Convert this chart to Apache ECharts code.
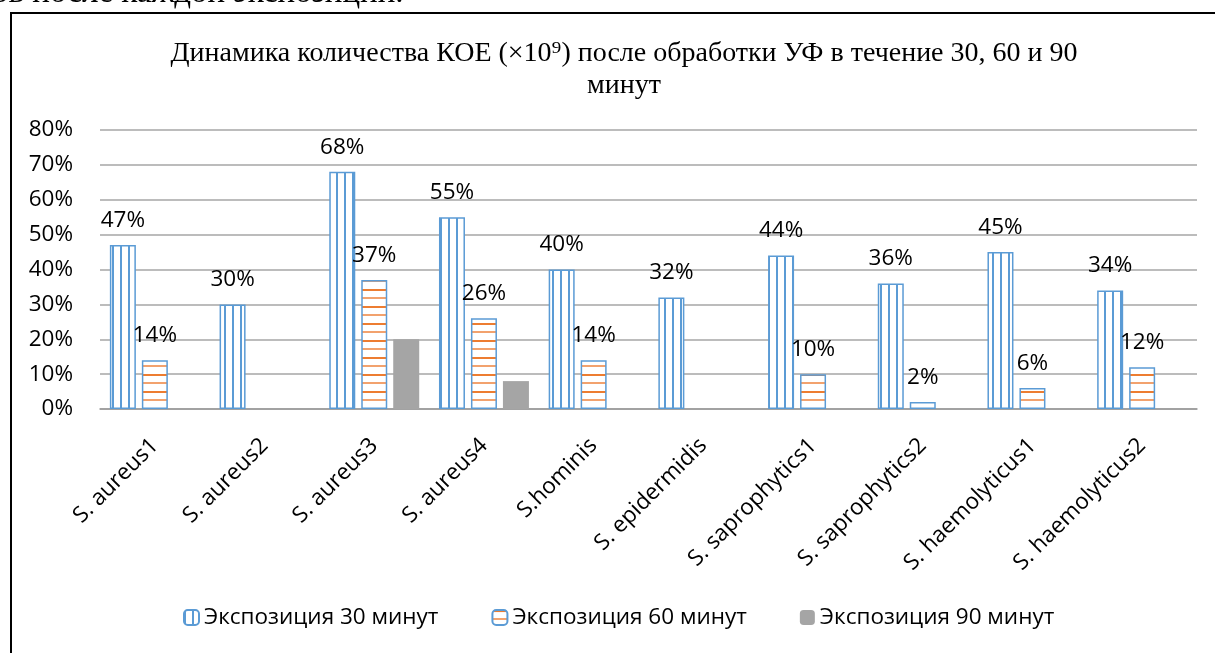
<!DOCTYPE html>
<html>
<head>
<meta charset="utf-8">
<script src="https://cdn.jsdelivr.net/npm/echarts@6/dist/echarts.min.js"></script>
<style>
  html, body { margin: 0; padding: 0; background: #fff; }
  #chart { width: 1215px; height: 653px; }
</style>
</head>
<body>
<div id="chart"></div>
<script>
var categories = ["S. aureus1", "S. aureus2", "S. aureus3", "S. aureus4", "S.hominis",
  "S. epidermidis", "S. saprophytics1", "S. saprophytics2", "S. haemolyticus1", "S. haemolyticus2"];
var seriesNames = ["Экспозиция 30 минут", "Экспозиция 60 минут", "Экспозиция 90 минут"];
var exp30 = [47, 30, 68, 55, 40, 32, 44, 36, 45, 34];
var exp60 = [14, null, 37, 26, 14, null, 10, 2, 6, 12];
var exp90 = [null, null, 20, 8, null, null, null, null, null, null];
var yTicks = [0, 10, 20, 30, 40, 50, 60, 70, 80];

var titleText = "Динамика количества КОЕ (×10⁹) после обработки УФ в течение 30, 60 и 90\nминут";
var pageText = "ов после каждой экспозиции.";

// штриховки как в Excel
function vertPattern() {
  var c = document.createElement("canvas");
  c.width = 8; c.height = 4;
  var g = c.getContext("2d");
  g.fillStyle = "#fff"; g.fillRect(0, 0, 8, 4);
  g.fillStyle = "#5B9BD5"; g.fillRect(0, 0, 2, 4);
  return c;
}
function horizPattern() {
  var c = document.createElement("canvas");
  c.width = 4; c.height = 17;
  var g = c.getContext("2d");
  g.fillStyle = "#fff"; g.fillRect(0, 0, 4, 17);
  g.fillStyle = "#ED7D31"; g.fillRect(0, 0, 4, 2);
  g.fillStyle = "#F2A26E"; g.fillRect(0, 8, 4, 2);
  return c;
}

var FONT = "Open Sans";
var FS = 22.5;

var myChart = echarts.init(document.getElementById("chart"));
var labelStyle = {
  show: true,
  position: "top",
  distance: 13,
  fontFamily: FONT,
  fontSize: FS,
  color: "#000",
  formatter: function(p) { return p.value == null ? "" : p.value + "%"; }
};

var option = {
  animation: false,
  graphic: [
    {
      type: "text", left: -8, top: -23,
      style: { text: pageText, font: "33px 'Liberation Serif'", fill: "#000" }
    },
    {
      type: "rect", shape: { x: 11, y: 13, width: 1300, height: 800 },
      style: { fill: "none", stroke: "#000", lineWidth: 2 }, z: -1
    }
  ],
  title: {
    text: titleText,
    left: 619,
    textAlign: "center",
    top: 33,
    textStyle: {
      fontFamily: "Liberation Serif",
      fontWeight: "normal",
      fontSize: 28,
      lineHeight: 32,
      color: "#000"
    }
  },
  legend: {
    data: seriesNames,
    bottom: 19,
    left: 178,
    itemWidth: 15,
    itemHeight: 15,
    itemGap: 53,
    textStyle: { fontFamily: FONT, fontSize: FS, color: "#000" }
  },
  grid: { left: 100, right: 18, top: 130, bottom: 244 },
  xAxis: {
    type: "category",
    data: categories,
    axisTick: { show: false },
    axisLine: { lineStyle: { color: "#999", width: 1.5 } },
    axisLabel: { rotate: 45, fontFamily: FONT, fontSize: FS, color: "#000", margin: 33, interval: 0 }
  },
  yAxis: {
    type: "value",
    min: 0, max: 80, interval: 10,
    axisLine: { show: false },
    axisTick: { show: false },
    axisLabel: {
      fontFamily: FONT, fontSize: FS, color: "#000", margin: 27,
      formatter: function(v) { return yTicks.indexOf(v) >= 0 ? v + "%" : ""; }
    },
    splitLine: { lineStyle: { color: "#A6A6A6", width: 1.5 } }
  },
  series: [
    {
      name: seriesNames[0], type: "bar", data: exp30,
      barWidth: 26, barGap: "23%",
      itemStyle: { color: { image: vertPattern(), repeat: "repeat" }, borderColor: "#5B9BD5", borderWidth: 1.5 },
      label: labelStyle
    },
    {
      name: seriesNames[1], type: "bar", data: exp60,
      barWidth: 26,
      itemStyle: { color: { image: horizPattern(), repeat: "repeat" }, borderColor: "#5B9BD5", borderWidth: 1.5 },
      label: labelStyle
    },
    {
      name: seriesNames[2], type: "bar", data: exp90,
      barWidth: 26,
      itemStyle: { color: "#A5A5A5" }
    }
  ]
};
myChart.setOption(option);
</script>
</body>
</html>
